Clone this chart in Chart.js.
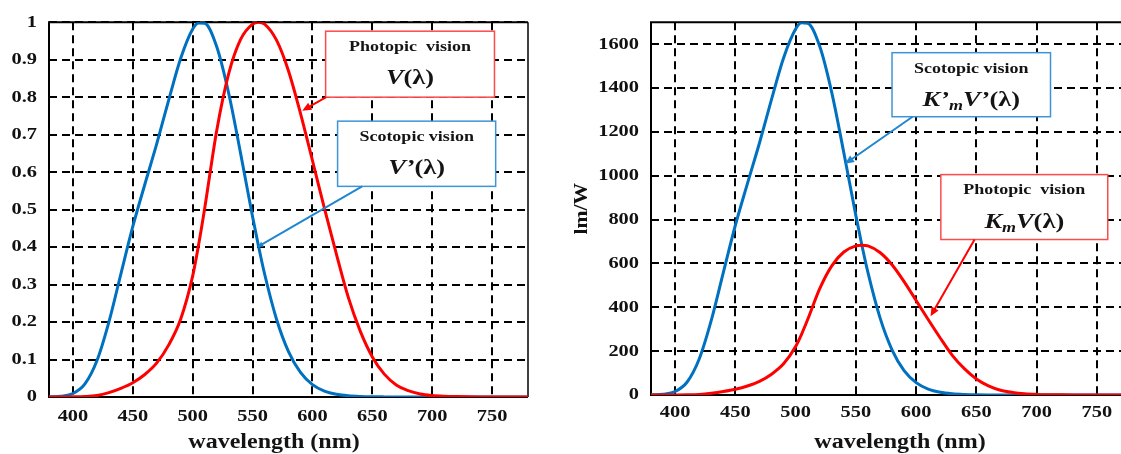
<!DOCTYPE html>
<html><head><meta charset="utf-8">
<script src="https://cdn.jsdelivr.net/npm/chart.js@4/dist/chart.umd.min.js"></script>
<style>
html,body{margin:0;padding:0;background:#fff;overflow:hidden;width:1121px;height:454px}
canvas{position:absolute;top:0}
#c1{left:0}
#c2{left:560px}
</style></head><body>
<canvas id="c1" width="545" height="454" style="width:545px;height:454px"></canvas>
<canvas id="c2" width="561" height="454" style="width:561px;height:454px"></canvas>
<script>
// ---- data ----
const wavelengths = [380,390,400,410,420,430,440,450,460,470,480,490,500,505,510,520,530,540,550,555,560,570,580,590,600,610,620,630,640,650,660,670,680,690,700,710,720,730,740,750,760,770,780];
const photopicV = [0.00004,0.00012,0.0004,0.0012,0.004,0.0116,0.023,0.038,0.06,0.091,0.139,0.208,0.323,0.4073,0.503,0.71,0.862,0.954,0.995,1.0,0.995,0.952,0.87,0.757,0.631,0.503,0.381,0.265,0.175,0.107,0.061,0.032,0.017,0.0082,0.0041,0.0021,0.00105,0.00052,0.00025,0.00012,0.00006,0.00003,0.000015];
const scotopicV = [0.000589,0.002209,0.00929,0.03484,0.0966,0.1998,0.3281,0.455,0.567,0.676,0.793,0.904,0.982,0.998,0.997,0.935,0.811,0.65,0.481,0.402,0.3288,0.2076,0.1212,0.0655,0.03315,0.01593,0.00737,0.003335,0.001497,0.000677,0.000313,0.000148,0.0000715,0.0000353,0.0000178,0.0000091,0.0000048,0.0000025,0.0000014,0.0000008,0.0000004,0.0000002,0.0000001];
const photopicKmV = [0.03,0.08,0.27,0.82,2.73,7.92,15.7,26.0,41.0,62.2,94.9,142,221,278,344,485,589,652,680,683,680,650,594,517,431,344,260,181,120,73.1,41.7,21.9,11.6,5.6,2.8,1.43,0.72,0.36,0.17,0.08,0.04,0.02,0.01];
const scotopicKmV = [1.0,3.76,15.8,59.2,164,340,558,774,964,1149,1348,1537,1669,1697,1695,1590,1379,1105,818,683,559,353,206,111,56.4,27.1,12.5,5.67,2.54,1.15,0.53,0.25,0.12,0.06,0.03,0.015,0.008,0.004,0.002,0.001,0.0007,0.0003,0.0002];
const xTicks = [400,450,500,550,600,650,700,750];
const xTickLabels = ['400','450','500','550','600','650','700','750'];
const leftYTicks = [0,0.1,0.2,0.3,0.4,0.5,0.6,0.7,0.8,0.9,1];
const leftYLabels = ['0','0.1','0.2','0.3','0.4','0.5','0.6','0.7','0.8','0.9','1'];
const rightYTicks = [0,200,400,600,800,1000,1200,1400,1600];
const rightYLabels = ['0','200','400','600','800','1000','1200','1400','1600'];
const xTitle = 'wavelength (nm)';
const rightYTitle = 'lm/W';

// ---- styling helpers ----
const SERIF = '"Liberation Serif", "Times New Roman", serif';
const F = (style, size) => `${style} ${size}px ${SERIF}`;
const SX = 1.2; // horizontal text stretch of the original picture
const RED = '#ff0000', BLUE = '#0070c0';

function patchCtx(ctx){
  if (ctx.__patched) return;
  ctx.__patched = true;
  const orig = ctx.fillText;
  ctx.fillText = function(t, x, y, mw){
    this.save(); this.translate(x, y); this.scale(SX, 1);
    if (mw !== undefined) orig.call(this, t, 0, 0, mw / SX); else orig.call(this, t, 0, 0);
    this.restore();
  };
}

function drawArrow(ctx, x1, y1, x2, y2, color, head){
  ctx.save();
  ctx.strokeStyle = color; ctx.fillStyle = color; ctx.lineWidth = 2;
  const ang = Math.atan2(y2 - y1, x2 - x1);
  const hx = x2 - Math.cos(ang) * head * 0.8, hy = y2 - Math.sin(ang) * head * 0.8;
  ctx.beginPath(); ctx.moveTo(x1, y1); ctx.lineTo(hx, hy); ctx.stroke();
  ctx.beginPath();
  ctx.moveTo(x2, y2);
  ctx.lineTo(x2 - head * Math.cos(ang) + head * 0.45 * Math.sin(ang), y2 - head * Math.sin(ang) - head * 0.45 * Math.cos(ang));
  ctx.lineTo(x2 - head * Math.cos(ang) - head * 0.45 * Math.sin(ang), y2 - head * Math.sin(ang) + head * 0.45 * Math.cos(ang));
  ctx.closePath(); ctx.fill();
  ctx.restore();
}

function drawRich(ctx, segs, cx, baseY){
  let total = 0;
  segs.forEach(s => { ctx.font = s.f; total += ctx.measureText(s.t).width * SX; });
  let x = cx - total / 2;
  ctx.textAlign = 'left'; ctx.textBaseline = 'alphabetic';
  segs.forEach(s => { ctx.font = s.f; ctx.fillText(s.t, x, baseY + (s.dy || 0)); x += ctx.measureText(s.t).width * SX; });
}

function makeAnnPlugin(cfg){
  return {
    id: 'ann' + cfg.id,
    beforeDatasetsDraw(chart){
      const {ctx, chartArea: a} = chart;
      ctx.save();
      ctx.strokeStyle = '#000'; ctx.lineWidth = 2; ctx.setLineDash([]);
      ctx.beginPath();
      ctx.moveTo(a.left, a.top); ctx.lineTo(a.right, a.top);
      ctx.moveTo(a.left, a.top - 1); ctx.lineTo(a.left, a.bottom); ctx.lineTo(a.right, a.bottom);
      ctx.stroke();
      if (cfg.frameRight){
        ctx.lineWidth = 1.5;
        ctx.beginPath(); ctx.moveTo(a.right, a.top); ctx.lineTo(a.right, a.bottom); ctx.stroke();
      }
      ctx.restore();
    },
    afterDatasetsDraw(chart){
      const {ctx, chartArea: a, scales: {x, y}} = chart;
      ctx.save();
      cfg.boxes.forEach(b => {
        const l = x.getPixelForValue(b.x0), r = x.getPixelForValue(b.x1);
        const t = y.getPixelForValue(b.y0), bt = y.getPixelForValue(b.y1);
        ctx.fillStyle = '#fff'; ctx.fillRect(l, t, r - l, bt - t);
        ctx.strokeStyle = b.color; ctx.lineWidth = 1.5; ctx.strokeRect(l, t, r - l, bt - t);
        ctx.fillStyle = '#141414';
        ctx.font = F('bold', 15); ctx.textAlign = 'center'; ctx.textBaseline = 'middle';
        ctx.fillText(b.line1, (l + r) / 2, t + 16);
        drawRich(ctx, b.line2, (l + r) / 2, t + 53);
      });
      cfg.arrows.forEach(ar => drawArrow(ctx,
        x.getPixelForValue(ar.from[0]), y.getPixelForValue(ar.from[1]),
        x.getPixelForValue(ar.to[0]), y.getPixelForValue(ar.to[1]), ar.color, ar.head));
      // x axis title
      ctx.fillStyle = '#141414'; ctx.font = F('bold', 20);
      ctx.textAlign = 'center'; ctx.textBaseline = 'middle';
      ctx.fillText(xTitle, a.left + cfg.titleDx, cfg.titleY);
      ctx.restore();
    }
  };
}

const big = s => F(s, 22);
const leftAnn = {
  id: 'L', frameRight: true, titleDx: 225, titleY: 443,
  boxes: [
    {x0: 611, x1: 752, y0: 0.976, y1: 0.80, color: '#ff4a4a', line1: 'Photopic  vision',
     line2: [{t: 'V', f: big('italic bold')}, {t: '(λ)', f: big('bold')}]},
    {x0: 621, x1: 753, y0: 0.736, y1: 0.562, color: '#3d95d8', line1: 'Scotopic vision',
     line2: [{t: 'V’', f: big('italic bold')}, {t: '(λ)', f: big('bold')}]}
  ],
  arrows: [
    {from: [611.5, 0.80], to: [591.5, 0.764], color: RED, head: 9},
    {from: [641.5, 0.562], to: [554, 0.40], color: '#1f86cf', head: 6}
  ]
};
const rightAnn = {
  id: 'R', frameRight: false, titleDx: 249, titleY: 443,
  boxes: [
    {x0: 580, x1: 711.5, y0: 1561, y1: 1269, color: '#3d95d8', line1: 'Scotopic vision',
     line2: [{t: 'K’', f: big('italic bold')}, {t: 'm', f: F('italic bold', 15), dy: 4}, {t: 'V’', f: big('italic bold')}, {t: '(λ)', f: big('bold')}]},
    {x0: 620.5, x1: 759, y0: 1005, y1: 709, color: '#ff4a4a', line1: 'Photopic  vision',
     line2: [{t: 'K', f: big('italic bold')}, {t: 'm', f: F('italic bold', 15), dy: 4}, {t: 'V', f: big('italic bold')}, {t: '(λ)', f: big('bold')}]}
  ],
  arrows: [
    {from: [597, 1269], to: [541, 1054], color: '#1f86cf', head: 9},
    {from: [648.5, 709], to: [612, 359], color: RED, head: 9}
  ]
};

function makeChart(canvasId, cfg){
  const canvas = document.getElementById(canvasId);
  patchCtx(canvas.getContext('2d'));
  const tickFont = {family: SERIF, size: 17, weight: 'bold'};
  return new Chart(canvas, {
    type: 'line',
    data: {datasets: [
      {label: cfg.redLabel, data: wavelengths.map((w, i) => ({x: w, y: cfg.red[i]})),
       borderColor: RED, borderWidth: 3, pointRadius: 0, cubicInterpolationMode: 'monotone', fill: false},
      {label: cfg.blueLabel, data: wavelengths.map((w, i) => ({x: w, y: cfg.blue[i]})),
       borderColor: BLUE, borderWidth: 3, pointRadius: 0, cubicInterpolationMode: 'monotone', fill: false}
    ]},
    options: {
      responsive: false, animation: false, devicePixelRatio: 1,
      layout: {padding: {top: cfg.padTop, right: cfg.padRight, left: 0, bottom: 0}},
      plugins: {legend: {display: false}, tooltip: {enabled: false}},
      scales: {
        x: {
          type: 'linear', min: 380, max: cfg.xMax,
          afterBuildTicks: s => { s.ticks = xTicks.map(v => ({value: v})); },
          afterFit: s => { s.height = cfg.xAxisH; },
          ticks: {callback: v => xTickLabels[xTicks.indexOf(v)], font: tickFont, color: '#111', padding: cfg.xPad, maxRotation: 0, autoSkip: false},
          grid: {color: '#000', lineWidth: 2, drawTicks: false},
          border: {display: false, dash: [8, 5]}
        },
        y: {
          type: 'linear', min: 0, max: cfg.yMax,
          afterBuildTicks: s => { s.ticks = cfg.yTicks.map(v => ({value: v})); },
          afterFit: s => { s.width = cfg.yAxisW; },
          ticks: {callback: v => cfg.yLabels[cfg.yTicks.indexOf(v)], font: tickFont, color: '#111', padding: 12, autoSkip: false},
          grid: {color: '#000', lineWidth: 2, drawTicks: false},
          border: {display: false, dash: [8, 5]},
          title: cfg.yTitle ? {display: true, text: cfg.yTitle, color: '#111', font: {family: SERIF, size: 18, weight: 'bold'}, padding: {top: 12, bottom: 0}} : {display: false}
        }
      }
    },
    plugins: [makeAnnPlugin(cfg.ann)]
  });
}

makeChart('c1', {
  red: photopicV, blue: scotopicV, redLabel: 'Photopic vision V(λ)', blueLabel: 'Scotopic vision V’(λ)',
  xMax: 780, yMax: 1, yTicks: leftYTicks, yLabels: leftYLabels,
  padTop: 18, padRight: 17, xAxisH: 57, yAxisW: 49, xPad: 9, ann: leftAnn
});
makeChart('c2', {
  red: photopicKmV, blue: scotopicKmV, redLabel: 'Photopic vision KmV(λ)', blueLabel: 'Scotopic vision K’mV’(λ)',
  xMax: 770, yMax: 1700, yTicks: rightYTicks, yLabels: rightYLabels, yTitle: rightYTitle,
  padTop: 16, padRight: 0, xAxisH: 59, yAxisW: 91, xPad: 7, ann: rightAnn
});
</script>
</body></html>
